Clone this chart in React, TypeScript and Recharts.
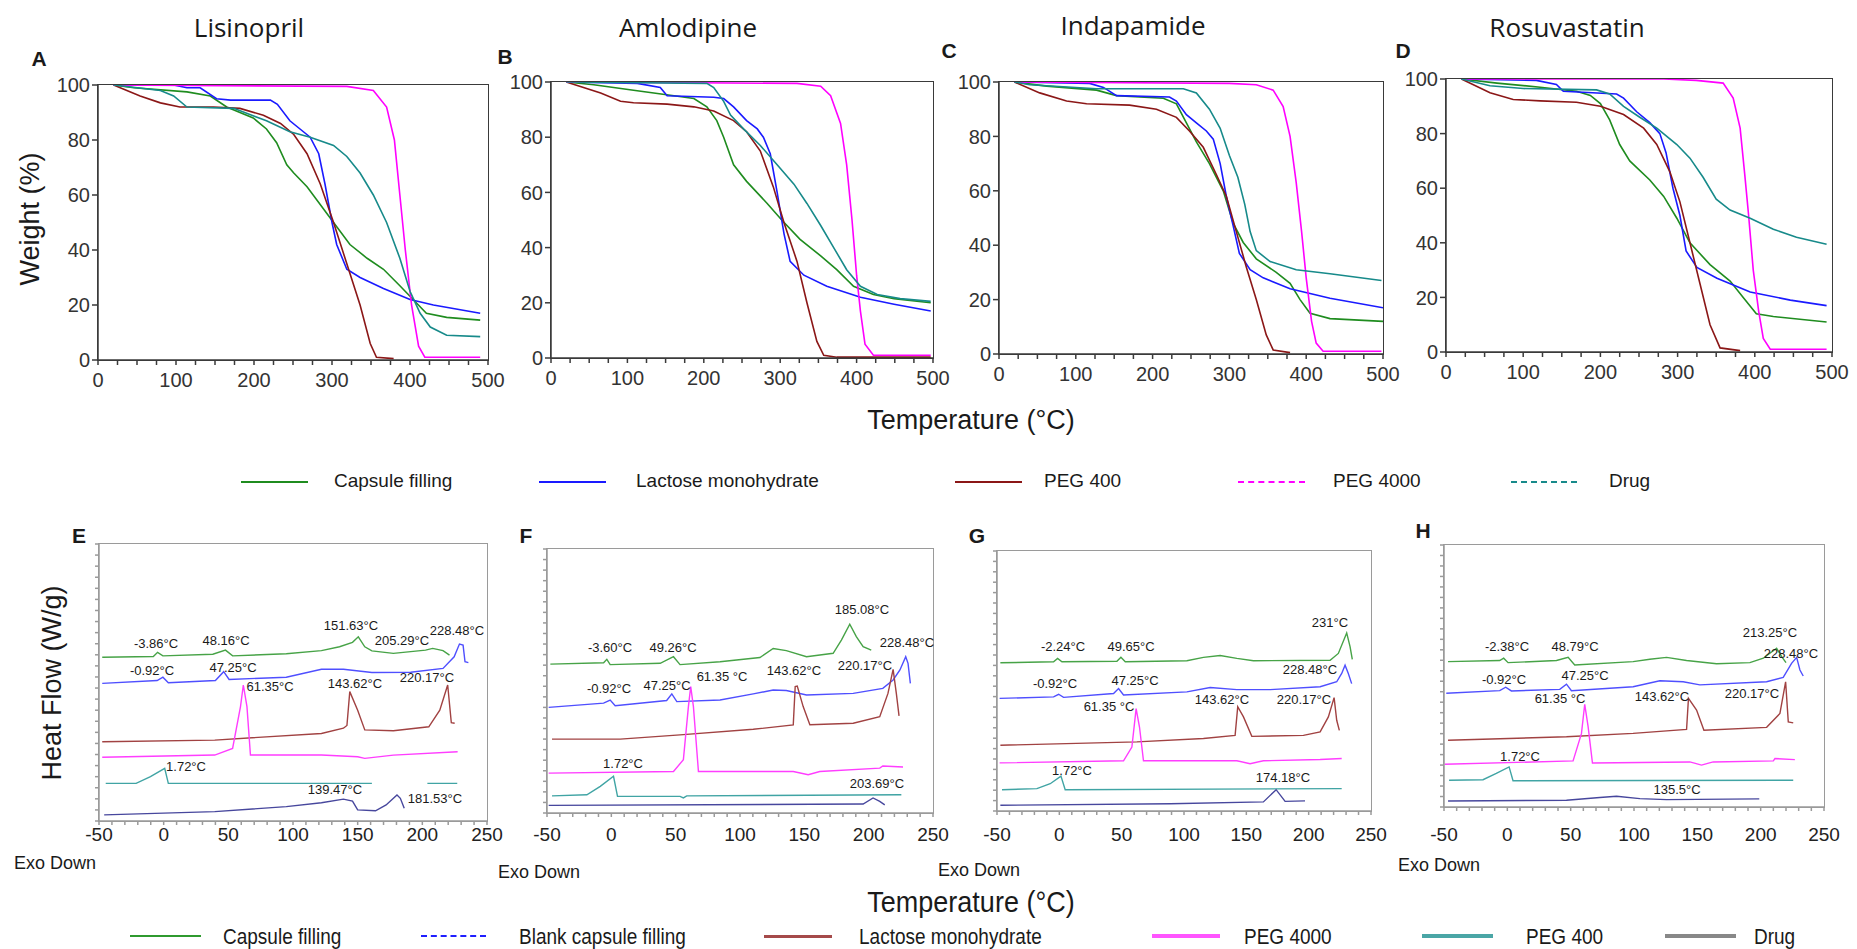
import React from 'react'
import { LineChart, Line, XAxis, YAxis } from 'recharts'

type Pt = [number, number | null]

// ---------- TGA (weight %) ----------
const lisCapsule: Pt[] = [[20,100],[46,99],[114,97.5],[144,96],[165,92],[199,88],[216,84],[229,79],[242,71],[251,68],[268,63],[302,50],[323,42],[345,37],[366,33],[387,27],[404,22],[421,17],[447,15.5],[490,14.5]]
const lisLactose: Pt[] = [[20,100],[97,100],[114,99],[131,99],[152,95],[170,94.5],[221,94.5],[230,93],[246,87],[259,84],[272,81],[283,75],[291,64],[300,50],[306,42],[319,33],[336,30],[366,26],[400,22],[430,20],[490,17]]
const lisPeg400: Pt[] = [[20,100],[54,96],[80,93.5],[105,92],[148,92],[182,91.5],[212,89],[234,86],[251,82],[268,75],[285,64],[302,50],[319,35],[336,20],[349,6],[357,1],[379,0.5]]
const lisPeg4000: Pt[] = [[20,100],[319,99.5],[353,98],[370,92],[380,80],[387,60],[394,40],[402,20],[411,5],[419,1],[490,1]]
const lisDrug: Pt[] = [[20,100],[80,98],[97,96],[114,92],[174,91.5],[216,87],[246,83],[272,81],[302,78],[319,74],[336,68],[353,60],[370,50],[387,37],[400,25],[413,17],[426,12],[447,9],[490,8.5]]

const amlCapsule: Pt[] = [[20,100],[56,99],[108,97],[161,95],[187,94],[204,91],[217,86],[226,80],[239,70],[256,64],[283,56],[302,50],[326,43],[353,37],[374,32],[396,26],[422,23],[449,21.5],[497,20]]
const amlLactose: Pt[] = [[20,100],[113,99.5],[143,98],[152,95],[213,94.5],[226,94],[239,91],[256,86],[270,83],[278,80],[287,74],[296,60],[305,45],[313,35],[331,30],[361,26],[405,22],[449,19.5],[497,17]]
const amlPeg400: Pt[] = [[20,100],[65,96],[91,93],[108,92.5],[152,92],[187,91],[213,89.5],[239,86],[256,82],[274,75],[291,62],[305,49],[322,35],[335,20],[348,6],[357,1],[374,0.3],[497,0.3]]
const amlPeg4000: Pt[] = [[20,100],[322,99.5],[353,98.5],[366,95],[379,85],[387,70],[394,50],[400,30],[405,17],[411,5],[422,1],[497,1]]
const amlDrug: Pt[] = [[20,100],[204,99.5],[213,98],[226,93],[235,88],[252,83],[274,77],[296,70],[318,63],[335,56],[353,48],[370,40],[387,32],[405,26],[427,23],[457,21.5],[497,20.5]]

const indCapsule: Pt[] = [[20,100],[62,98.5],[127,97],[153,95],[214,94],[231,92],[244,85],[257,78],[274,70],[292,60],[305,48],[318,41],[335,35],[361,30],[379,26],[392,20],[405,15],[431,13],[500,12]]
const indLactose: Pt[] = [[20,100],[118,99.5],[136,98],[153,95],[222,94.5],[231,93],[244,88],[257,85],[270,82],[279,79],[288,70],[296,58],[305,47],[313,37],[327,31],[344,28],[379,24],[431,20.5],[500,17]]
const indPeg400: Pt[] = [[20,100],[53,96],[88,93],[114,92],[170,91.5],[205,90],[231,87],[248,82],[266,76],[283,66],[296,58],[309,45],[322,32],[335,20],[348,7],[357,1.5],[379,0.5]]
const indPeg4000: Pt[] = [[20,100],[300,99.5],[335,99],[357,97],[370,91],[379,80],[387,63],[394,45],[400,28],[407,12],[413,4],[422,1],[498,1]]
const indDrug: Pt[] = [[20,100],[40,99],[127,97.5],[240,97.5],[257,96],[274,90],[288,83],[300,73],[311,65],[320,55],[327,45],[335,38],[353,34],[387,31],[431,29.5],[498,27]]

const rosCapsule: Pt[] = [[20,100],[66,98.5],[122,97],[169,95.5],[187,94],[200,91],[212,85],[225,76],[238,70],[264,63],[282,57],[299,49],[316,40],[342,32],[368,26],[385,20],[402,14],[424,13],[493,11]]
const rosLactose: Pt[] = [[20,100],[117,99.5],[143,98],[152,95.5],[221,94.5],[230,93],[247,88],[264,84],[277,80],[285,73],[294,60],[303,50],[311,37],[325,31],[351,27],[394,22],[446,19],[493,17]]
const rosPeg400: Pt[] = [[20,100],[57,95],[87,92.5],[122,92],[169,91.5],[200,90],[230,87],[256,82],[273,76],[290,66],[303,55],[316,40],[329,25],[342,10],[355,1.5],[381,0.5]]
const rosPeg4000: Pt[] = [[20,100],[282,100],[324,99.5],[359,98.5],[372,93],[381,82],[387,65],[392,50],[398,30],[405,15],[411,5],[420,1],[493,1]]
const rosDrug: Pt[] = [[20,100],[57,97.5],[100,96.5],[195,96],[212,94.5],[230,90],[251,86],[273,82],[299,76],[316,71],[333,64],[350,56],[368,52],[394,49],[424,45],[454,42],[493,39.5]]

// ---------- DSC (heat flow, arbitrary offset units 0-100) ----------
const eCapsule: Pt[] = [[-47.5,59.1],[-8,59.4],[-4.7,60.9],[-0.6,59.6],[38,60.2],[47.8,61.7],[53.3,59.6],[94.8,60.4],[122,61.5],[136,62.9],[146,64.5],[150.5,66.5],[155.5,62.9],[161,61.4],[177.6,60.5],[202.5,61.7],[208,62.3],[216,61.5],[221,59.9]]
const eBlank: Pt[] = [[-47.5,49.7],[-5,50.7],[-0.6,51.9],[3.6,49.9],[40,50.7],[46.4,53.9],[50.6,51.1],[94.8,51.9],[122,54.8],[139,54.8],[161,53.6],[191,53.7],[216,55.1],[224.6,59.3],[228.7,63.9],[231.5,63.5],[233,57.5],[235.6,57.2]]
const eLactose: Pt[] = [[-47.5,28.6],[39.5,29.2],[122,31.6],[139,33.5],[141.7,34.5],[143.9,46.7],[150,40],[155.5,32.9],[177.6,32.6],[205,34],[213.5,40],[219.6,49.1],[222.4,35.5],[225,35.3]]
const ePeg4000: Pt[] = [[-47.5,23],[39.5,23.8],[53.3,26.2],[59.4,41.3],[61.6,49.1],[64.4,41.3],[67.1,23.8],[122,23.8],[150,23.2],[155.5,22.6],[177.6,23.8],[227.3,25]]
const ePeg400: Pt[] = [[-44.8,13.6],[-21.3,13.6],[-10.2,16],[0.8,19],[3.6,13.6],[161,13.6],[162,null],[203.9,13.6],[227,13.6]]
const eDrug: Pt[] = [[-46,2.2],[39.5,3.4],[94.8,5.2],[122,6.6],[139,7.9],[146,7.2],[150,4],[163.8,3.7],[172,5.8],[180.4,9.4],[183,8.2],[186,4.6]]

const fCapsule: Pt[] = [[-47.4,56.4],[-6,56.9],[-3.5,58.2],[-0.9,56.2],[38,56.7],[48.3,59.2],[53.4,56.2],[84.5,57.3],[115.5,58.9],[125.8,62.3],[136,61.5],[151.7,59.2],[172.4,60.5],[178.8,65.5],[185.3,71.5],[190.4,66.8],[195.7,63],[202,61.7]]
const fBlank: Pt[] = [[-48.7,40],[-6,41.6],[-0.9,42.8],[3,40.6],[43,42.6],[47,45.1],[50.9,42.2],[84.5,42.8],[110.3,45.1],[125.8,46.6],[136,46.4],[151.7,44.7],[188,45.3],[211,47.2],[219,50.4],[224.3,54.2],[228.8,59.2],[230.6,56.7],[232.4,49.1]]
const fLactose: Pt[] = [[-46.1,28],[6.9,28],[53.4,29.6],[110.3,31.7],[141.4,33.4],[142.9,47.9],[144.5,48.1],[149.1,40.3],[154.3,33.4],[188,34],[208.6,36.5],[215,45.3],[219,54.4],[221.5,45.3],[223.6,36.8]]
const fPeg4000: Pt[] = [[-48.7,15.1],[48.3,15.7],[56,20.2],[59.9,40.3],[61.7,47.9],[63.8,40.3],[67.7,15.7],[141.4,15.7],[153,14.5],[162,15.7],[208.6,17],[211,17.8],[226.7,17.4]]
const fPeg400: Pt[] = [[-46.1,6.5],[-19,6.9],[-8.6,10.1],[1.7,13.9],[4.8,6.3],[53.4,6.3],[56,5.7],[58.6,6.5],[225.4,6.9]]
const fDrug: Pt[] = [[-48.7,2.9],[195.7,3.4],[203.4,5.7],[208.6,4.4],[212.5,3.1]]

const gCapsule: Pt[] = [[-47.3,57],[-4.6,57.4],[-1.4,58.7],[2.1,57.4],[46.2,57.6],[49.4,59.1],[52.9,57.4],[102.3,57.8],[115.6,59.1],[129,59.8],[142.4,58.7],[155.7,57.8],[217.2,58],[223.8,60.6],[230.5,68.5],[233.2,63.2],[235,58.3]]
const gBlank: Pt[] = [[-47.9,43.3],[-4.6,43.9],[-0.6,44.9],[3.4,43.7],[43.5,45.2],[47.5,47.1],[51.5,44.6],[102.3,45.8],[121,47.5],[142.4,46.7],[169.1,46.7],[209.2,47.8],[222.5,49.7],[226.5,52.9],[229.2,56.1],[231.8,52.9],[234.5,49]]
const gLactose: Pt[] = [[-47.3,25.3],[62.2,26.6],[115.6,27.9],[141,29.1],[143.1,40.1],[147.7,36.2],[154.4,28.7],[195.8,29.1],[209.2,30.4],[215.8,36.2],[220.4,43.6],[222.5,34.9],[224.6,31]]
const gPeg4000: Pt[] = [[-47.9,18.5],[51.5,19.3],[58.2,24.6],[61.6,39.4],[64.3,32.3],[67.5,19.3],[142.4,19.3],[153,18.2],[163.7,19.3],[209.2,19.8],[226.5,20.2]]
const gPeg400: Pt[] = [[-46,8.2],[-18,8.6],[-7.3,10.5],[1.3,13.4],[4.7,8.2],[226.5,8.6]]
const gDrug: Pt[] = [[-47.3,2.2],[88.9,2.8],[163.7,3.5],[173.9,8.2],[181.1,3.7],[197.1,3.9]]

const hCapsule: Pt[] = [[-46.8,55.5],[-6,55.9],[-2.9,56.8],[0.6,55.1],[38.8,55.9],[48,57.1],[53.2,54.2],[99.3,55.5],[112.5,56.4],[125.7,57.1],[141.5,55.9],[165.2,54.7],[191.5,55.1],[202.1,56.8],[207.3,58.7],[212.6,60.6],[216.6,57.4],[220,55.1]]
const hBlank: Pt[] = [[-48.2,43.4],[-6,44.4],[-1.3,45.7],[3.2,44.3],[41.4,44.9],[46.7,46.9],[50.6,44.4],[99.3,45.9],[120.4,48.2],[138.8,47.8],[152,46.6],[204.7,47.8],[217.8,49.5],[224.4,54.8],[228.4,57.1],[231,52.3],[233.6,50]]
const hLactose: Pt[] = [[-46.8,25.5],[46.7,26.8],[99.3,28.1],[141.5,29.6],[143,41.5],[149.4,37],[155.2,29.3],[204.7,30.4],[215.2,35.7],[219.7,47.8],[221.8,32.5],[225.7,32.1]]
const hPeg4000: Pt[] = [[-49.5,16.3],[51.9,17.6],[58.5,28],[61.1,39.2],[63.8,30.6],[67.2,16.8],[144.1,17.2],[153.3,16],[162.5,17.2],[210,17.6],[211.3,18.5],[227,18.1]]
const hPeg400: Pt[] = [[-46,10.2],[-19.2,10.4],[-8.7,12.8],[1.4,15.3],[4.5,10],[225.7,10.2]]
const hDrug: Pt[] = [[-46.8,2.3],[46.7,2.6],[73,3.6],[86.2,4.1],[104.6,3.2],[125.7,2.8],[198.9,3.1]]

// ---------- labels ----------
const drugNames = ['Lisinopril', 'Amlodipine', 'Indapamide', 'Rosuvastatin']
const tgaLegend = ['Capsule filling', 'Lactose monohydrate', 'PEG 400', 'PEG 4000', 'Drug']
const dscLegend = ['Capsule filling', 'Blank capsule filling', 'Lactose monohydrate', 'PEG 4000', 'PEG 400', 'Drug']
const tgaXTicks = [0, 25, 50, 75, 100, 125, 150, 175, 200, 225, 250, 275, 300, 325, 350, 375, 400, 425, 450, 475, 500]
const tgaYTicks = [0, 20, 40, 60, 80, 100]
const dscXTicks = [-50, -40, -30, -20, -10, 0, 10, 20, 30, 40, 50, 60, 70, 80, 90, 100, 110, 120, 130, 140, 150, 160, 170, 180, 190, 200, 210, 220, 230, 240, 250]
const dscYTicks = [0, 4, 8, 12, 16, 20, 24, 28, 32, 36, 40, 44, 48, 52, 56, 60, 64, 68, 72, 76, 80, 84, 88, 92, 96, 100]

// peak annotations per DSC panel: [text, centre x, centre y] on the page
const eNotes: [string, number, number][] = [
  ['-3.86°C', 156, 643], ['48.16°C', 226, 640], ['151.63°C', 351, 625], ['205.29°C', 402, 640], ['228.48°C', 457, 630],
  ['-0.92°C', 152, 670], ['47.25°C', 233, 667], ['61.35°C', 270, 686], ['143.62°C', 355, 683], ['220.17°C', 427, 677],
  ['1.72°C', 186, 766], ['139.47°C', 335, 789], ['181.53°C', 435, 798],
]
const fNotes: [string, number, number][] = [
  ['-3.60°C', 610, 647], ['49.26°C', 673, 647], ['185.08°C', 862, 609], ['228.48°C', 907, 642],
  ['-0.92°C', 609, 688], ['47.25°C', 667, 685], ['61.35 °C', 722, 676], ['143.62°C', 794, 670], ['220.17°C', 865, 665],
  ['1.72°C', 623, 763], ['203.69°C', 877, 783],
]
const gNotes: [string, number, number][] = [
  ['-2.24°C', 1063, 646], ['49.65°C', 1131, 646], ['231°C', 1330, 622],
  ['-0.92°C', 1055, 683], ['47.25°C', 1135, 680], ['228.48°C', 1310, 669],
  ['61.35 °C', 1109, 706], ['143.62°C', 1222, 699], ['220.17°C', 1304, 699],
  ['1.72°C', 1072, 770], ['174.18°C', 1283, 777],
]
const hNotes: [string, number, number][] = [
  ['-2.38°C', 1507, 646], ['48.79°C', 1575, 646], ['213.25°C', 1770, 632], ['228.48°C', 1791, 653],
  ['-0.92°C', 1504, 679], ['47.25°C', 1585, 675], ['61.35 °C', 1560, 698], ['143.62°C', 1662, 696], ['220.17°C', 1752, 693],
  ['1.72°C', 1520, 756], ['135.5°C', 1677, 789],
]

const tgaColors = ['#1f8c1f', '#1a1aff', '#8b1717', '#ff00ff', '#178a8a']
const dscColors = ['#47a347', '#4f4fff', '#a14242', '#ff3dff', '#40a4a4', '#47479d']
const FONT = '"Liberation Sans", Arial, sans-serif'

interface Box { left: number; top: number; w: number; h: number }

interface PanelProps {
  box: Box
  series: Pt[][]
  colors: string[]
  kind: 'tga' | 'dsc'
  tickMargin?: number
}

function Panel({ box, series, colors, kind, tickMargin = 2 }: PanelProps) {
  const tga = kind === 'tga'
  const axisColor = tga ? '#3a3a3a' : '#9a9a9a'
  return (
    <div style={{ position: 'absolute', left: box.left - 70, top: box.top - 10 }}>
      <LineChart width={box.w + 100} height={box.h + 60} margin={{ top: 10, right: 30, left: 0, bottom: 0 }}>
        <XAxis
          type="number"
          dataKey="x"
          domain={tga ? [0, 500] : [-50, 250]}
          ticks={tga ? tgaXTicks : dscXTicks}
          allowDataOverflow
          interval={0}
          height={50}
          stroke={axisColor}
          strokeWidth={1.5}
          tickSize={tga ? 5 : 4}
          tickMargin={tickMargin}
          tick={{ fill: tga ? '#333' : '#222', fontSize: tga ? 20 : 19, fontFamily: FONT }}
          tickFormatter={(v: number) => (v % (tga ? 100 : 50) === 0 ? String(v) : '')}
        />
        <YAxis
          type="number"
          dataKey="y"
          domain={[0, 100]}
          ticks={tga ? tgaYTicks : dscYTicks}
          allowDataOverflow
          interval={0}
          width={70}
          stroke={axisColor}
          strokeWidth={1.5}
          tickSize={tga ? 6 : 4}
          tickMargin={2}
          tick={{ fill: '#333', fontSize: 20, fontFamily: FONT }}
          tickFormatter={(v: number) => (tga ? String(v) : '')}
        />
        {series.map((pts, i) => (
          <Line
            key={i}
            data={pts.map(([x, y]) => ({ x, y }))}
            dataKey="y"
            type="linear"
            stroke={colors[i]}
            strokeWidth={tga ? 1.6 : 1.4}
            dot={false}
            activeDot={false}
            connectNulls={false}
            isAnimationActive={false}
          />
        ))}
      </LineChart>
      <div
        style={{
          position: 'absolute',
          left: 70 - 0.75,
          top: 10 - 0.75,
          width: box.w + 1.5,
          height: box.h + 1.5,
          boxSizing: 'border-box',
          border: `1.5px solid ${axisColor}`,
          pointerEvents: 'none',
        }}
      />
    </div>
  )
}

function Txt({ x, y, size, children, anchor = 'center', weight = 400, family = FONT, sy = 1, rotate = 0 }: any) {
  const tx = anchor === 'center' ? '-50%' : anchor === 'end' ? '-100%' : '0'
  return (
    <div
      style={{
        position: 'absolute',
        left: x,
        top: y,
        transform: `translate(${tx}, -50%) rotate(${rotate}deg) scale(1, ${sy})`,
        fontSize: size,
        fontWeight: weight,
        fontFamily: family,
        color: '#1a1a1a',
        whiteSpace: 'nowrap',
        lineHeight: 1,
      }}
    >
      {children}
    </div>
  )
}

function LegendLine({ x1, x2, y, color, width = 2, dashed = false }: any) {
  return (
    <div
      style={{
        position: 'absolute',
        left: x1,
        top: y - width / 2,
        width: x2 - x1,
        borderTop: `${width}px ${dashed ? 'dashed' : 'solid'} ${color}`,
      }}
    />
  )
}

const tgaBoxes: Box[] = [
  { left: 98, top: 85, w: 390, h: 275 },
  { left: 551, top: 82, w: 382, h: 276 },
  { left: 999, top: 82, w: 384, h: 272 },
  { left: 1446, top: 79, w: 386, h: 273 },
]
const dscBoxes: Box[] = [
  { left: 99, top: 544, w: 388, h: 277 },
  { left: 547, top: 549, w: 386, h: 264 },
  { left: 997, top: 551, w: 374, h: 260 },
  { left: 1444, top: 545, w: 380, h: 262 },
]

export default function App() {
  const tgaData = [
    [lisCapsule, lisLactose, lisPeg400, lisPeg4000, lisDrug],
    [amlCapsule, amlLactose, amlPeg400, amlPeg4000, amlDrug],
    [indCapsule, indLactose, indPeg400, indPeg4000, indDrug],
    [rosCapsule, rosLactose, rosPeg400, rosPeg4000, rosDrug],
  ]
  const dscData = [
    [eCapsule, eBlank, eLactose, ePeg4000, ePeg400, eDrug],
    [fCapsule, fBlank, fLactose, fPeg4000, fPeg400, fDrug],
    [gCapsule, gBlank, gLactose, gPeg4000, gPeg400, gDrug],
    [hCapsule, hBlank, hLactose, hPeg4000, hPeg400, hDrug],
  ]
  const notes = [eNotes, fNotes, gNotes, hNotes]
  const titlePos = [[249, 27], [688, 27], [1133, 25], [1567, 27]]
  const letters: [string, number, number][] = [
    ['A', 39, 58], ['B', 505, 56], ['C', 949, 50], ['D', 1403, 50],
    ['E', 79, 535], ['F', 526, 535], ['G', 977, 535], ['H', 1423, 530],
  ]
  // DSC x labels all sit on one row, so the margin differs per panel
  const dscTickMargins = [3, 11, 13, 17]

  const topLegend = [
    { x1: 241, x2: 308, tx: 334, dashed: false },
    { x1: 539, x2: 606, tx: 636, dashed: false },
    { x1: 955, x2: 1022, tx: 1044, dashed: false },
    { x1: 1238, x2: 1305, tx: 1333, dashed: true },
    { x1: 1511, x2: 1577, tx: 1609, dashed: true },
  ]
  const bottomLegend = [
    { x1: 130, x2: 201, tx: 223, w: 2, dashed: false, color: '#2f9a2f' },
    { x1: 421, x2: 486, tx: 519, w: 2, dashed: true, color: '#1f1fff' },
    { x1: 764, x2: 832, tx: 859, w: 3, dashed: false, color: '#a54a4a' },
    { x1: 1152, x2: 1220, tx: 1244, w: 4, dashed: false, color: '#ff55ff' },
    { x1: 1422, x2: 1493, tx: 1526, w: 4, dashed: false, color: '#4aa6a6' },
    { x1: 1665, x2: 1736, tx: 1754, w: 4, dashed: false, color: '#888888' },
  ]
  const exoDown: [number, number][] = [[14, 863], [498, 872], [938, 870], [1398, 865]]

  return (
    <div
      style={{
        position: 'fixed',
        left: 0,
        top: 0,
        width: 1857,
        height: 949,
        background: '#fff',
        overflow: 'hidden',
        fontFamily: FONT,
      }}
    >
      {drugNames.map((n, i) => (
        <Txt key={n} x={titlePos[i][0]} y={titlePos[i][1]} size={26} family='"Open Sans", sans-serif'>
          {n}
        </Txt>
      ))}
      {letters.map(([l, x, y]) => (
        <Txt key={l} x={x} y={y} size={21} weight={700}>
          {l}
        </Txt>
      ))}

      {tgaBoxes.map((b, i) => (
        <Panel key={'t' + i} box={b} series={tgaData[i]} colors={tgaColors} kind="tga" tickMargin={8} />
      ))}
      {dscBoxes.map((b, i) => (
        <Panel key={'d' + i} box={b} series={dscData[i]} colors={dscColors} kind="dsc" tickMargin={dscTickMargins[i]} />
      ))}

      {notes.map((list, p) =>
        list.map(([t, x, y], k) => (
          <Txt key={p + '-' + k} x={x} y={y} size={13}>
            {t}
          </Txt>
        ))
      )}

      <Txt x={30} y={219} size={27} rotate={-90}>
        Weight (%)
      </Txt>
      <Txt x={52} y={683} size={27} rotate={-90}>
        Heat Flow (W/g)
      </Txt>
      <Txt x={971} y={420} size={27}>
        Temperature (°C)
      </Txt>
      <Txt x={971} y={902} size={27} sy={1.12}>
        Temperature (°C)
      </Txt>

      {topLegend.map((it, i) => (
        <React.Fragment key={'tl' + i}>
          <LegendLine x1={it.x1} x2={it.x2} y={482} color={tgaColors[i]} width={2} dashed={it.dashed} />
          <Txt x={it.tx} y={480} size={19} anchor="start">
            {tgaLegend[i]}
          </Txt>
        </React.Fragment>
      ))}

      {exoDown.map(([x, y], i) => (
        <Txt key={'ex' + i} x={x} y={y} size={18} anchor="start">
          Exo Down
        </Txt>
      ))}

      {bottomLegend.map((it, i) => (
        <React.Fragment key={'bl' + i}>
          <LegendLine x1={it.x1} x2={it.x2} y={936} color={it.color} width={it.w} dashed={it.dashed} />
          <Txt x={it.tx} y={936} size={19} anchor="start" sy={1.18}>
            {dscLegend[i]}
          </Txt>
        </React.Fragment>
      ))}
    </div>
  )
}
